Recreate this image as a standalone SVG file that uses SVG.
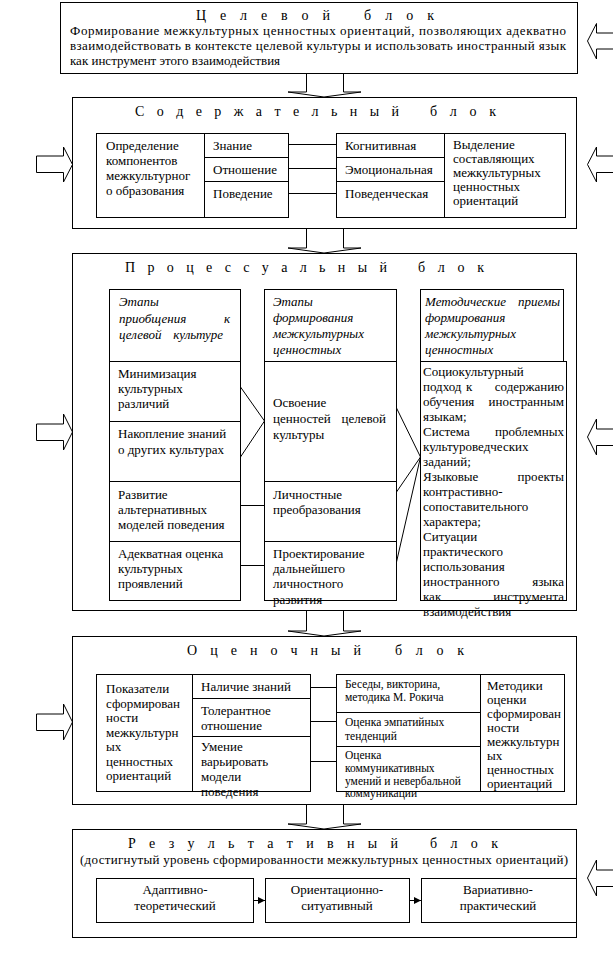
<svg xmlns="http://www.w3.org/2000/svg" width="613" height="962" viewBox="0 0 613 962">
<style>
text{font-family:"Liberation Serif","Times New Roman",serif;font-size:13px;fill:#000;stroke:none}
.ttl{font-size:14px}
.i{font-style:italic}
.s{font-size:11.5px}
.c{text-anchor:middle}
.e{text-anchor:end}
rect,polygon,line{fill:none;stroke:#000;stroke-width:1}
.w{fill:#fff}
.ah{fill:#000;stroke:none}
</style>
<defs>
<marker id="arr" markerWidth="8" markerHeight="8" refX="7" refY="4" orient="auto" markerUnits="userSpaceOnUse">
<path class="ah" d="M0,0.5 L7,4 L0,7.5 Z"/>
</marker>
</defs>
<rect x="0" y="0" width="613" height="962" style="fill:#fff;stroke:none"/>

<g id="side-arrows">
<polygon points="614,33 596.5,33 596.5,23.5 587.5,41 596.5,59 596.5,49 614,49"/>
<polygon points="36.5,156 63.5,156 63.5,147 72.5,164.5 63.5,182 63.5,172.5 36.5,172.5"/>
<polygon points="614,156 596.5,156 596.5,147 587.5,164.5 596.5,182 596.5,172.5 614,172.5"/>
<polygon points="36.5,424 63.5,424 63.5,414 72.5,432 63.5,450 63.5,440.5 36.5,440.5"/>
<polygon points="614,429 596.5,429 596.5,419 587.5,437 596.5,455 596.5,445.5 614,445.5"/>
<polygon points="36.5,714 63.5,714 63.5,704 72.5,722 63.5,740 63.5,730.5 36.5,730.5"/>
<polygon points="614,870 596.5,870 596.5,860 587.5,878 596.5,896 596.5,886.5 614,886.5"/>
</g>

<g id="flow-arrows">
<polygon points="306.5,73.5 306.5,92 288,92 324,97 361,92 343.5,92 343.5,73.5"/>
<polygon points="306.5,228.5 306.5,248 288,248 324,253 361,248 343.5,248 343.5,228.5"/>
<polygon points="306.5,610.5 306.5,631 288,631 324,636 361,631 343.5,631 343.5,610.5"/>
<polygon points="306.5,804.5 306.5,824 288,824 324,829 361,824 343.5,824 343.5,804.5"/>
</g>

<g id="target-block">
<rect x="60.5" y="2.5" width="517" height="71"/>
<text class="ttl" x="196" y="20" textLength="134" lengthAdjust="spacing">Ц е л е в о й</text>
<text class="ttl" x="364" y="20" textLength="70" lengthAdjust="spacing">б л о к</text>
<text x="70" y="35" textLength="496" lengthAdjust="spacing">Формирование межкультурных ценностных ориентаций, позволяющих адекватно</text>
<text x="70" y="50" textLength="496" lengthAdjust="spacing">взаимодействовать в контексте целевой культуры и использовать иностранный язык</text>
<text x="70" y="65">как инструмент этого взаимодействия</text>
</g>

<g id="content-block">
<rect x="72.5" y="97.5" width="504" height="131"/>
<text class="ttl" x="135" y="116" textLength="264" lengthAdjust="spacing">С о д е р ж а т е л ь н ы й</text>
<text class="ttl" x="430" y="116" textLength="66" lengthAdjust="spacing">б л о к</text>
</g>
<g id="content-components">
<rect x="96.5" y="133.5" width="192" height="84"/>
<line x1="204.5" y1="133.5" x2="204.5" y2="217.5"/>
<line x1="204.5" y1="157.5" x2="288.5" y2="157.5"/>
<line x1="204.5" y1="181.5" x2="288.5" y2="181.5"/>
<text x="106" y="150">Определение</text>
<text x="106" y="165">компонентов</text>
<text x="106" y="180">межкультурног</text>
<text x="106" y="195">о образования</text>
<text x="213" y="150">Знание</text>
<text x="213" y="174">Отношение</text>
<text x="213" y="198">Поведение</text>
</g>
<g id="content-orientations">
<rect x="336.5" y="133.5" width="229" height="84"/>
<line x1="444.5" y1="133.5" x2="444.5" y2="217.5"/>
<line x1="336.5" y1="157.5" x2="444.5" y2="157.5"/>
<line x1="336.5" y1="181.5" x2="444.5" y2="181.5"/>
<text x="345" y="150">Когнитивная</text>
<text x="345" y="174">Эмоциональная</text>
<text x="345" y="198">Поведенческая</text>
<text x="453" y="149">Выделение</text>
<text x="453" y="163">составляющих</text>
<text x="453" y="177">межкультурных</text>
<text x="453" y="191">ценностных</text>
<text x="453" y="205">ориентаций</text>
</g>

<g id="process-block">
<rect x="72.5" y="253.5" width="504" height="357"/>
<text class="ttl" x="125" y="272" textLength="262" lengthAdjust="spacing">П р о ц е с с у а л ь н ы й</text>
<text class="ttl" x="418" y="272" textLength="66" lengthAdjust="spacing">б л о к</text>
</g>
<g id="process-col1-header">
<rect x="109.5" y="289.5" width="131" height="72"/>
<text class="i" x="119" y="306">Этапы</text>
<text class="i" x="119" y="323">приобщения</text>
<text class="i" x="224" y="323">к</text>
<text class="i" x="119" y="339">целевой</text>
<text class="i e" x="223" y="339">культуре</text>
</g>
<g id="process-col2-header">
<rect x="264.5" y="289.5" width="132" height="72"/>
<text class="i" x="273" y="306">Этапы</text>
<text class="i" x="273" y="322">формирования</text>
<text class="i" x="273" y="338">межкультурных</text>
<text class="i" x="273" y="354">ценностных</text>
</g>
<g id="process-col3-header">
<rect x="420.5" y="289.5" width="143" height="72"/>
<text class="i" x="425" y="306">Методические</text>
<text class="i e" x="560" y="306">приемы</text>
<text class="i" x="425" y="322">формирования</text>
<text class="i" x="425" y="338">межкультурных</text>
<text class="i" x="425" y="354">ценностных</text>
</g>
<g id="process-col1">
<rect class="w" x="109.5" y="361.5" width="131" height="239"/>
<line x1="109.5" y1="421.5" x2="240.5" y2="421.5"/>
<line x1="109.5" y1="481.5" x2="240.5" y2="481.5"/>
<line x1="109.5" y1="541.5" x2="240.5" y2="541.5"/>
<text x="118" y="378">Минимизация</text>
<text x="118" y="393">культурных</text>
<text x="118" y="408">различий</text>
<text x="118" y="438">Накопление знаний</text>
<text x="118" y="454">о других культурах</text>
<text x="118" y="499">Развитие</text>
<text x="118" y="514">альтернативных</text>
<text x="118" y="529">моделей поведения</text>
<text x="118" y="558">Адекватная оценка</text>
<text x="118" y="573">культурных</text>
<text x="118" y="588">проявлений</text>
</g>
<g id="process-col2">
<rect class="w" x="264.5" y="361.5" width="132" height="239"/>
<line x1="264.5" y1="481.5" x2="396.5" y2="481.5"/>
<line x1="264.5" y1="541.5" x2="396.5" y2="541.5"/>
<text x="273" y="407">Освоение</text>
<text x="273" y="423">ценностей</text>
<text class="e" x="386" y="423">целевой</text>
<text x="273" y="439">культуры</text>
<text x="273" y="499">Личностные</text>
<text x="273" y="514">преобразования</text>
<text x="273" y="558">Проектирование</text>
<text x="273" y="573">дальнейшего</text>
<text x="273" y="588">личностного</text>
<text x="273" y="604">развития</text>
</g>
<g id="process-col3">
<rect class="w" x="420.5" y="361.5" width="146" height="239"/>
<text x="423" y="376">Социокультурный</text>
<text x="423" y="391">подход</text>
<text x="466" y="391">к</text>
<text class="e" x="564" y="391">содержанию</text>
<text x="423" y="406">обучения</text>
<text class="e" x="564" y="406">иностранным</text>
<text x="423" y="421">языкам;</text>
<text x="423" y="436">Система</text>
<text class="e" x="564" y="436">проблемных</text>
<text x="423" y="451">культуроведческих</text>
<text x="423" y="466">заданий;</text>
<text x="423" y="481">Языковые</text>
<text class="e" x="564" y="481">проекты</text>
<text x="423" y="496">контрастивно-</text>
<text x="423" y="511">сопоставительного</text>
<text x="423" y="526">характера;</text>
<text x="423" y="541">Ситуации</text>
<text x="423" y="556">практического</text>
<text x="423" y="571">использования</text>
<text x="423" y="586">иностранного</text>
<text class="e" x="564" y="586">языка</text>
<text x="423" y="601">как</text>
<text class="e" x="564" y="601">инструмента</text>
<text x="423" y="616">взаимодействия</text>
</g>

<g id="evaluation-block">
<rect x="72.5" y="636.5" width="504" height="168"/>
<text class="ttl" x="187" y="655" textLength="174" lengthAdjust="spacing">О ц е н о ч н ы й</text>
<text class="ttl" x="395" y="655" textLength="69" lengthAdjust="spacing">б л о к</text>
</g>
<g id="evaluation-indicators">
<rect x="96.5" y="674.5" width="214" height="117"/>
<line x1="192.5" y1="674.5" x2="192.5" y2="791.5"/>
<line x1="192.5" y1="698.5" x2="310.5" y2="698.5"/>
<line x1="192.5" y1="736.5" x2="310.5" y2="736.5"/>
<text x="106" y="693">Показатели</text>
<text x="106" y="707.5">сформирован</text>
<text x="106" y="722">ности</text>
<text x="106" y="736.5">межкультурн</text>
<text x="106" y="751">ых</text>
<text x="106" y="765.5">ценностных</text>
<text x="106" y="780">ориентаций</text>
<text x="201" y="691">Наличие знаний</text>
<text x="201" y="715">Толерантное</text>
<text x="201" y="730">отношение</text>
<text x="201" y="751">Умение</text>
<text x="201" y="766">варьировать</text>
<text x="201" y="781">модели</text>
<text x="201" y="796">поведения</text>
</g>
<g id="evaluation-methods">
<rect x="336.5" y="674.5" width="228" height="117"/>
<line x1="480.5" y1="674.5" x2="480.5" y2="791.5"/>
<line x1="336.5" y1="712.5" x2="480.5" y2="712.5"/>
<line x1="336.5" y1="746.5" x2="480.5" y2="746.5"/>
<text class="s" x="345" y="688">Беседы, викторина,</text>
<text class="s" x="345" y="701">методика М. Рокича</text>
<text class="s" x="345" y="726">Оценка эмпатийных</text>
<text class="s" x="345" y="740">тенденций</text>
<text class="s" x="345" y="759">Оценка</text>
<text class="s" x="345" y="772">коммуникативных</text>
<text class="s" x="345" y="785">умений и невербальной</text>
<text class="s" x="345" y="797">коммуникации</text>
<text x="487" y="690">Методики</text>
<text x="487" y="704">оценки</text>
<text x="487" y="718">сформирован</text>
<text x="487" y="732">ности</text>
<text x="487" y="746">межкультурн</text>
<text x="487" y="760">ых</text>
<text x="487" y="774">ценностных</text>
<text x="487" y="788">ориентаций</text>
</g>

<g id="result-block">
<rect x="72.5" y="829.5" width="504" height="108"/>
<text class="ttl" x="128" y="848" textLength="270" lengthAdjust="spacing">Р е з у л ь т а т и в н ы й</text>
<text class="ttl" x="430" y="848" textLength="68" lengthAdjust="spacing">б л о к</text>
<text x="80" y="864" textLength="488" lengthAdjust="spacing">(достигнутый уровень сформированности межкультурных ценностных ориентаций)</text>
</g>
<g id="result-adaptive">
<rect x="96.5" y="878.5" width="157" height="44"/>
<text class="c" x="175" y="894">Адаптивно-</text>
<text class="c" x="175" y="910">теоретический</text>
</g>
<g id="result-orientational">
<rect x="265.5" y="878.5" width="144" height="44"/>
<text class="c" x="337" y="894">Ориентационно-</text>
<text class="c" x="337" y="910">ситуативный</text>
</g>
<g id="result-variative">
<rect x="421.5" y="878.5" width="155" height="44"/>
<text class="c" x="498" y="894">Вариативно-</text>
<text class="c" x="498" y="910">практический</text>
</g>

<g id="connectors">
<line x1="288.5" y1="144.5" x2="336.5" y2="144.5"/>
<line x1="288.5" y1="168.5" x2="336.5" y2="168.5"/>
<line x1="288.5" y1="193.5" x2="336.5" y2="193.5"/>
<line x1="240.5" y1="387" x2="264.5" y2="421"/>
<line x1="240.5" y1="457" x2="264.5" y2="421"/>
<line x1="240.5" y1="505.5" x2="264.5" y2="505.5"/>
<line x1="240.5" y1="565.5" x2="264.5" y2="565.5"/>
<line x1="396.5" y1="408" x2="420.5" y2="457"/>
<line x1="396.5" y1="492" x2="420.5" y2="457"/>
<line x1="396.5" y1="562" x2="420.5" y2="457"/>
<line x1="310.5" y1="687.5" x2="336.5" y2="687.5"/>
<line x1="310.5" y1="721.5" x2="336.5" y2="721.5"/>
<line x1="310.5" y1="761.5" x2="336.5" y2="761.5"/>
<line x1="253.5" y1="900.5" x2="265" y2="900.5" marker-end="url(#arr)"/>
<line x1="409.5" y1="900.5" x2="421" y2="900.5" marker-end="url(#arr)"/>
</g>
</svg>
